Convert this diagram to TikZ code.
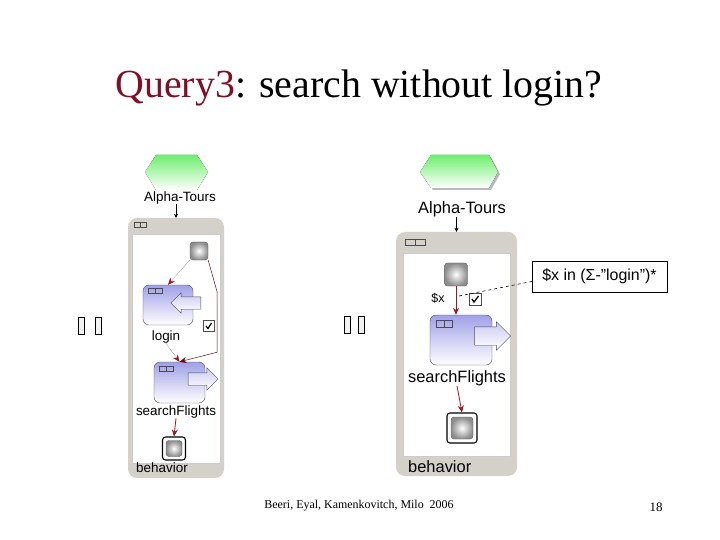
\documentclass[tikz,border=0pt]{standalone}
\usepackage{fontspec}
\setmainfont{Liberation Serif}
\setsansfont{Liberation Sans}
\usetikzlibrary{arrows.meta,shapes.arrows}
\definecolor{titleRed}{RGB}{128,16,40}
\definecolor{flowRed}{RGB}{165,20,30}
\definecolor{panelGray}{RGB}{212,208,202}
\definecolor{actTop}{RGB}{160,160,232}
\definecolor{hexGreen}{RGB}{110,238,110}
\tikzset{
  panel/.style={fill=panelGray, rounded corners=9bp, inner sep=0pt},
  lanebox/.style={fill=white, draw=gray!40, line width=0.8pt, inner sep=0pt},
  startbox/.style={draw=gray!70!black, rounded corners=3bp, inner color=white, outer color=gray!90, inner sep=0pt},
  endbox/.style={draw=black, line width=1.1pt, fill=white, rounded corners=3bp, inner sep=0pt},
  actbox/.style={draw=gray!60!black, rounded corners=6bp, top color=actTop, bottom color=white, inner sep=0pt},
  flowarrow/.style={single arrow, draw=gray!60!black, top color=actTop!55, bottom color=white, inner xsep=0pt},
  tickbox/.style={draw=gray!60!black, fill=white, inner sep=0pt},
  tofubox/.style={draw, line width=1.6pt, fill=gray!10, minimum width=6bp, minimum height=17bp, inner sep=0pt},
  iconline/.style={draw=gray!60!black, line width=0.5pt},
  hexfill/.style={top color=hexGreen, bottom color=white},
  lblsmall/.style={font=\sffamily\fontsize{13.5}{15}\selectfont, inner sep=0pt},
  lblbig/.style={font=\sffamily\fontsize{16.5}{18}\selectfont, inner sep=0pt},
  redflow/.style={draw=flowRed, line width=0.8pt, -{Stealth[length=7bp, width=6bp]}},
  entry/.style={line width=0.6pt, -{Stealth[length=4bp, width=4bp]}}
}
\begin{document}
\begin{tikzpicture}[x=1bp, y=-1bp]
  \useasboundingbox (0,0) rectangle (720,540);
  \node[anchor=base, font=\fontsize{40}{44}\selectfont, inner sep=0pt] (title) at (359,98)
    {\textcolor{titleRed}{Query3}: search without login?};

  % left process
  \fill[hexfill] (145,172) -- (156,155) -- (197,155) -- (208,172) -- (197,190) -- (156,190) -- cycle;
  \node[lblsmall] (alphaL) at (180,198) {Alpha-Tours};
  \node[panel, minimum width=96bp, minimum height=260bp] (behL) at (176,348) {};
  \node[lanebox, minimum width=88bp, minimum height=229bp] (laneL) at (176,348.5) {};
  \draw[iconline] (134,222) rectangle (140,227) (140,222) rectangle (146,227);
  \node[lblsmall, anchor=west] (behLText) at (136,468) {behavior};
  \draw[entry] (behL.north |- alphaL.south) -- (behL.north);

  \node[startbox, minimum size=18bp] (startL) at (199,251) {};
  \node[actbox, minimum width=50bp, minimum height=40bp] (login) at (168,305) {};
  \node[flowarrow, shape border rotate=180, minimum height=30bp, inner ysep=6bp,
    single arrow head extend=4bp] (loginIn) at (189,303) {};
  \draw[iconline] (148,288) rectangle (155,293) (155,288) rectangle (162,293);
  \node[tickbox, minimum size=11bp] (tickL) at (209,326) {};
  \draw[line width=1.2pt] ([shift={(-3,0)}]tickL.center) -- ++(2,2.5) -- ++(3.5,-5.5);
  \node[lblsmall] (loginText) at (166,337) {login};
  \node[actbox, minimum width=51bp, minimum height=41bp] (searchL) at (179.5,382.5) {};
  \node[flowarrow, minimum height=30bp, inner ysep=6bp, single arrow head extend=5bp] (searchLOut) at (200,379) {};
  \draw[iconline] (159,366) rectangle (166,371) (166,366) rectangle (173,371);
  \node[lblsmall] (searchLText) at (176,412) {searchFlights};
  \node[endbox, minimum size=23bp] (endL) at (174,448.5) {};
  \node[startbox, minimum size=16bp] (endLCore) at (endL) {};

  \draw[densely dotted, -{Stealth[length=7bp, width=6bp, flowRed]}] (startL.south west) -- (login.north);
  \draw[redflow, draw=flowRed!60!black, line width=0.5pt] (startL.south east) -- ++(9,32) -- ++(0,60) -- (searchL.north);
  \draw[densely dotted, -{Stealth[length=7bp, width=6bp, flowRed]}] (loginText.south) -- (searchL.north);
  \draw[redflow] (searchLText.south) -- (endL.north);

  % right process
  \fill[gray!55, shift={(2,2)}] (420,172) -- (431,155) -- (489,155) -- (498,172) -- (489,188) -- (431,188) -- cycle;
  \fill[hexfill] (420,172) -- (431,155) -- (489,155) -- (498,172) -- (489,188) -- (431,188) -- cycle;
  \node[lblbig] (alphaR) at (462,209) {Alpha-Tours};
  \node[panel, minimum width=121bp, minimum height=244bp] (behR) at (456.5,354) {};
  \node[lanebox, minimum width=107bp, minimum height=203bp] (laneR) at (456.5,354.5) {};
  \draw[iconline] (405,239) rectangle (415,245) (415,239) rectangle (425,245);
  \node[lblbig, anchor=west] (behRText) at (408,467) {behavior};
  \draw[entry] (behR.north |- alphaR.south) -- (behR.north);

  \node[startbox, minimum size=23bp] (startR) at (456,274.5) {};
  \node[font=\sffamily\fontsize{12.5}{14}\selectfont, inner sep=0pt] (varX) at (438,298) {\$x};
  \node[tickbox, minimum size=12bp] (tickR) at (475.5,299) {};
  \draw[line width=1.3pt] ([shift={(-3.5,0)}]tickR.center) -- ++(2,3) -- ++(4.5,-6);
  \node[actbox, minimum width=62bp, minimum height=50bp] (searchR) at (461,340) {};
  \node[flowarrow, minimum height=36bp, inner ysep=9bp, single arrow head extend=5bp] (searchROut) at (488,336) {};
  \draw[iconline] (436,320) rectangle (444,327) (444,320) rectangle (452,327);
  \node[lblbig] (searchRText) at (457,378) {searchFlights};
  \node[endbox, minimum size=30bp] (endR) at (462,428) {};
  \node[startbox, minimum size=22bp] (endRCore) at (endR) {};

  \draw[redflow] (startR.south) -- (startR.south |- searchR.north);
  \draw[redflow] (searchRText.south) -- (endR.north);

  \node[draw, fill=white, line width=0.6pt, minimum width=135bp, minimum height=31bp, inner sep=0pt,
    font=\sffamily\fontsize{16}{18}\selectfont] (cond) at (599.5,276.5) {\$x in (Σ-"login")*};
  \coordinate (xTie) at (459,296);
  \draw[dashed, line width=0.6pt] (xTie) -- ([yshift=-5bp]cond.west);

  % missing glyph boxes
  \node[tofubox] (tofuL1) at (81.5,326) {};
  \node[tofubox] (tofuL2) at (98.5,326) {};
  \node[tofubox] (tofuR1) at (347.5,325) {};
  \node[tofubox] (tofuR2) at (361.5,325) {};

  % footer
  \node[anchor=base, font=\fontsize{12}{14}\selectfont, inner sep=0pt] (credit) at (359,508)
    {Beeri, Eyal, Kamenkovitch, Milo\ \ 2006};
  \node[anchor=base, font=\fontsize{13}{15}\selectfont, inner sep=0pt] (pageNo) at (656,511) {18};
\end{tikzpicture}
\end{document}
